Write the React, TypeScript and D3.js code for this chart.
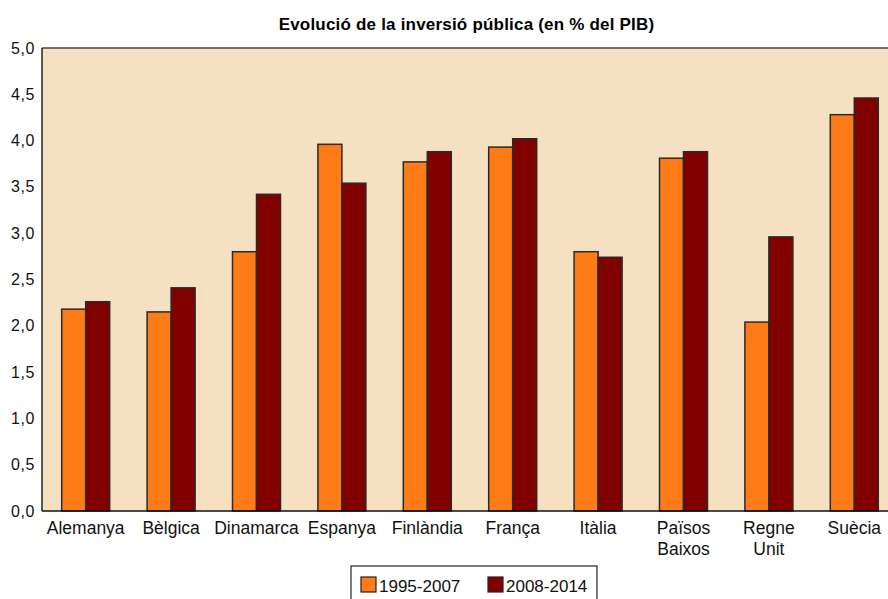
import React from "react";
import * as d3 from "d3";

const categories = [
  ["Alemanya"],
  ["Bèlgica"],
  ["Dinamarca"],
  ["Espanya"],
  ["Finlàndia"],
  ["França"],
  ["Itàlia"],
  ["Països", "Baixos"],
  ["Regne", "Unit"],
  ["Suècia"],
];
const series1995 = [2.18, 2.15, 2.8, 3.96, 3.77, 3.93, 2.8, 3.81, 2.04, 4.28];
const series2008 = [2.26, 2.41, 3.42, 3.54, 3.88, 4.02, 2.74, 3.88, 2.96, 4.46];
const seriesNames = ["1995-2007", "2008-2014"];
const seriesColors = ["#FF7B17", "#800000"];
const yTicks = [0, 0.5, 1, 1.5, 2, 2.5, 3, 3.5, 4, 4.5, 5];
const title = "Evolució de la inversió pública (en % del PIB)";

export default function App() {
  const W = 888, H = 599;
  const left = 42, right = 897, top = 48, bottom = 511;
  const font = "'Liberation Sans', Arial, sans-serif";
  const x = d3.scaleBand<number>().domain(d3.range(categories.length)).range([left + 1, right]).paddingInner(0).paddingOuter(0);
  const y = d3.scaleLinear().domain([0, 5]).range([bottom, top]);
  const bw = 24;
  const fmt = (v: number) => v.toFixed(1).replace(".", ",");
  const data = [series1995, series2008];
  return (
    <svg width={W} height={H} style={{ position: "absolute", left: 0, top: 0 }} fontFamily={font}>
      <rect x={0} y={0} width={W} height={H} fill="#fff" />
      <text x={466.5} y={30} textAnchor="middle" fontSize={17} fontWeight="bold" fill="#000" letterSpacing={0.2}>{title}</text>
      <rect x={left} y={top} width={right - left} height={bottom - top} fill="#F5E1C2" />
      {data.map((s, si) =>
        s.map((v, i) => {
          const cx = x(i)! + x.bandwidth() / 2;
          const bx = cx - bw + si * bw;
          return (
            <rect key={si + "-" + i} x={bx} y={y(v)} width={bw} height={bottom - y(v)} fill={seriesColors[si]} stroke="#2a2a2a" strokeWidth={1.5} />
          );
        })
      )}
      <line x1={left} x2={right} y1={top} y2={top} stroke="#444" strokeWidth={1.5} />
      <line x1={left} x2={left} y1={top} y2={bottom} stroke="#222" strokeWidth={1.5} />
      <line x1={left} x2={right} y1={bottom} y2={bottom} stroke="#111" strokeWidth={1.5} />
      {yTicks.map((t) => (
        <text key={t} x={35} y={y(t) + 5.5} textAnchor="end" fontSize={16} letterSpacing={0.6} fill="#111">{fmt(t)}</text>
      ))}
      {categories.map((c, i) => (
        <text key={i} x={x(i)! + x.bandwidth() / 2} y={534} textAnchor="middle" fontSize={17.5} fill="#111">
          {c.map((line, li) => (
            <tspan key={li} x={x(i)! + x.bandwidth() / 2} dy={li === 0 ? 0 : 20.5}>{line}</tspan>
          ))}
        </text>
      ))}
      <rect x={351} y={566} width={246} height={40} fill="#fff" stroke="#222" strokeWidth={1.2} />
      {seriesNames.map((n, i) => {
        const lx = i === 0 ? 361 : 488;
        return (
          <g key={n}>
            <rect x={lx} y={577} width={15} height={15} fill={seriesColors[i]} stroke="#222" strokeWidth={1.2} />
            <text x={lx + 18} y={592} fontSize={17} fill="#111">{n}</text>
          </g>
        );
      })}
    </svg>
  );
}
